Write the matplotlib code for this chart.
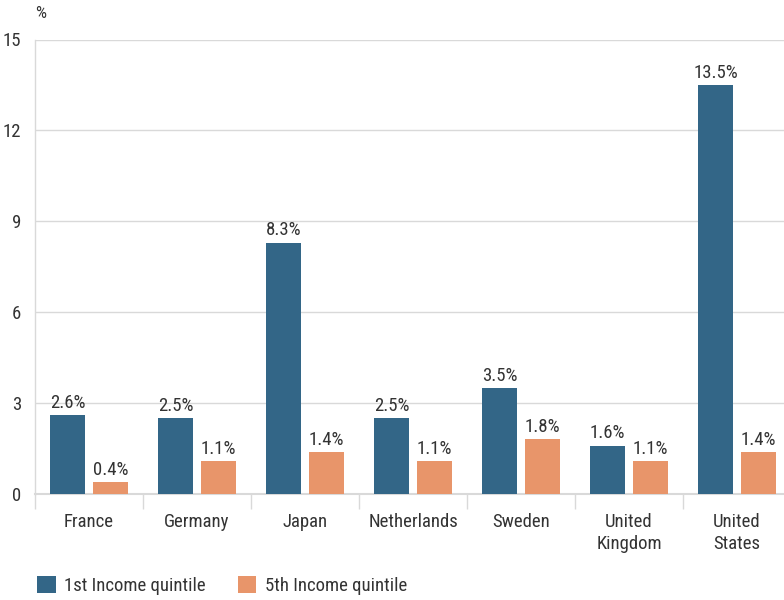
import matplotlib
matplotlib.use("Agg")
import matplotlib.pyplot as plt
import numpy as np
from matplotlib import font_manager

# Condensed face if one is available
names = {f.name for f in font_manager.fontManager.ttflist}
family = [n for n in ["Roboto Condensed", "Liberation Sans Narrow", "Open Sans Condensed", "Roboto", "DejaVu Sans"] if n in names]
plt.rcParams["font.family"] = family

countries = ["France", "Germany", "Japan", "Netherlands", "Sweden", "United\nKingdom", "United\nStates"]
q1 = [2.6, 2.5, 8.3, 2.5, 3.5, 1.6, 13.5]
q5 = [0.4, 1.1, 1.4, 1.1, 1.8, 1.1, 1.4]
series_names = ["1st Income quintile", "5th Income quintile"]
yticks = [0, 3, 6, 9, 12, 15]

blue = "#336687"
orange = "#e8956a"
grid = "#d9d9d9"
text = "#333333"
fs = 13.5

fig = plt.figure(figsize=(7.84, 6.0), dpi=100)
ax = fig.add_axes([35 / 784, 1 - 494 / 600, 756 / 784, 454.5 / 600])

x = np.arange(len(countries))
w = 0.324
off = 0.199
ax.bar(x - off, q1, width=w, color=blue, label=series_names[0], zorder=3)
ax.bar(x + off, q5, width=w, color=orange, label=series_names[1], zorder=3)

for xi, v in zip(x, q1):
    ax.text(xi - off, v + 0.1, f"{v:.1f}%", ha="center", va="bottom", fontsize=fs, color=text)
for xi, v in zip(x, q5):
    ax.text(xi + off, v + 0.1, f"{v:.1f}%", ha="center", va="bottom", fontsize=fs, color=text)

ax.set_xlim(-0.5, len(countries) - 0.5)
ax.set_ylim(0, 15)
ax.set_yticks(yticks)
ax.set_yticklabels([str(t) for t in yticks], fontsize=fs, color=text)
ax.tick_params(axis="y", length=0, pad=10)
ax.yaxis.grid(True, color=grid, linewidth=1, zorder=0)

# category labels centered, separators at group edges
ax.set_xticks(x)
ax.set_xticklabels(countries, fontsize=fs, color=text, linespacing=1.25)
ax.tick_params(axis="x", length=0, pad=14)
ax.set_xticks(np.arange(len(countries) + 1) - 0.5, minor=True)
ax.tick_params(axis="x", which="minor", length=11, width=1, color=grid)

for s in ["top", "right"]:
    ax.spines[s].set_visible(False)
ax.spines["left"].set_color(grid)
ax.spines["bottom"].set_color(grid)
ax.spines["bottom"].set_linewidth(1.5)
ax.spines["left"].set_linewidth(1)

fig.text(41 / 784, 1 - 13 / 600, "%", fontsize=12.5, color=text, ha="center", va="center")

leg = fig.legend(loc="lower left", bbox_to_anchor=(20 / 784, -0.02), ncol=2, frameon=False,
                 fontsize=fs, handlelength=1.0, handleheight=1.0, columnspacing=1.7,
                 handletextpad=0.45, labelcolor=text)

fig.savefig("out.png", dpi=100)
